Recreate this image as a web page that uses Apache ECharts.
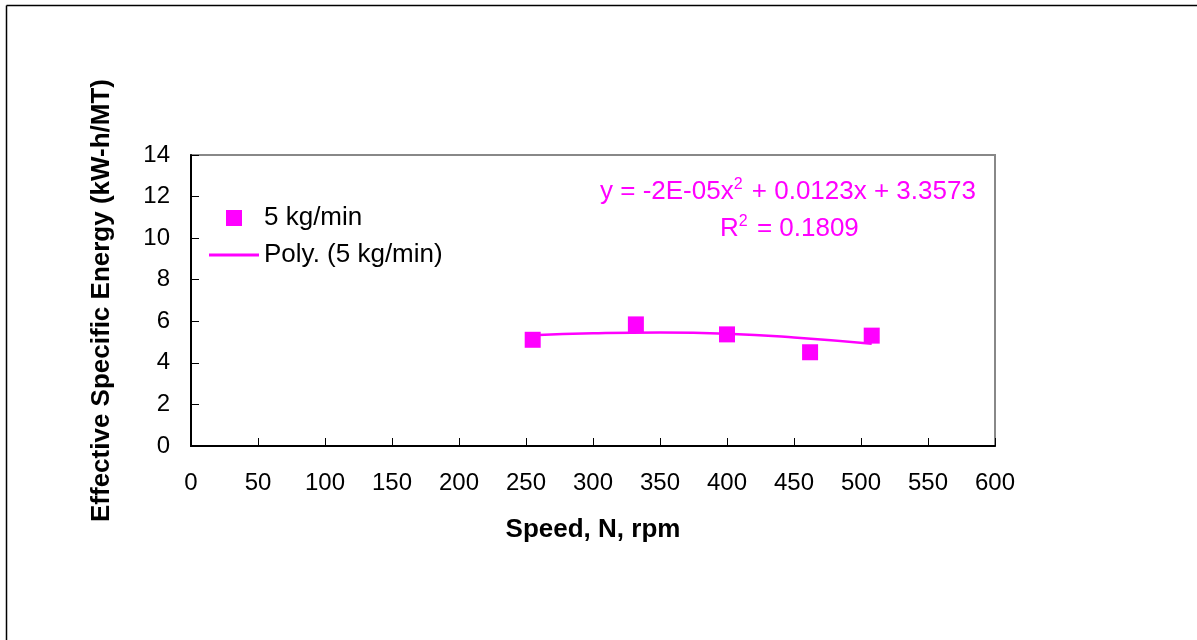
<!DOCTYPE html>
<html>
<head>
<meta charset="utf-8">
<script src="https://cdn.jsdelivr.net/npm/echarts@6/dist/echarts.min.js"></script>
<style>
  html, body { margin: 0; padding: 0; background: #fff; }
  #chart { width: 1197px; height: 640px; }
</style>
</head>
<body>
<div id="chart"></div>
<script>
// measured points (speed rpm, energy kW-h/MT)
const speedRpm = [255, 332, 400, 462, 508]
const energy = [5.11, 5.85, 5.37, 4.51, 5.31]

// trend line
const trendRpm = [255, 300, 350, 400, 450, 508]
const trendEnergy = [5.33, 5.42, 5.46, 5.40, 5.22, 4.92]

const xTicks = [0, 600, 50]   // min, max, step
const yTicks = [0, 14, 2]

const magenta = '#FF00FF'
const font = 'Arial, "Liberation Sans", sans-serif'

const chart = echarts.init(document.getElementById('chart'))

const option = {
  backgroundColor: '#fff',
  animation: false,
  textStyle: { fontFamily: font },
  grid: { left: 191, right: 202, top: 155, bottom: 194, show: true, borderColor: '#888', borderWidth: 2 },
  legend: [
    {
      left: 221, top: 200, orient: 'vertical',
      itemWidth: 16, itemHeight: 16,
      data: [{ name: '5 kg/min', icon: 'rect' }],
      textStyle: { fontSize: 26, color: '#000', fontFamily: font, padding: [0, 0, 0, 17] }
    },
    {
      left: 204, top: 237, orient: 'vertical',
      itemWidth: 50, itemHeight: 3,
      data: [{ name: 'Poly. (5 kg/min)', icon: 'rect' }],
      textStyle: { fontSize: 26, color: '#000', fontFamily: font }
    }
  ],
  xAxis: {
    type: 'value', min: xTicks[0], max: xTicks[1], interval: xTicks[2],
    name: 'Speed, N, rpm', nameLocation: 'middle', nameGap: 71,
    nameTextStyle: { fontSize: 26, fontWeight: 'bold', color: '#000', fontFamily: font, verticalAlign: 'top' },
    axisLine: { lineStyle: { color: '#000', width: 2 } },
    axisTick: { inside: true, length: 8, lineStyle: { color: '#000' } },
    axisLabel: { fontSize: 24, color: '#000', margin: 25, fontFamily: font },
    splitLine: { show: false }
  },
  yAxis: {
    type: 'value', min: yTicks[0], max: yTicks[1], interval: yTicks[2],
    name: 'Effective Specific Energy (kW-h/MT)', nameLocation: 'middle', nameGap: 76,
    nameTextStyle: { fontSize: 26, fontWeight: 'bold', color: '#000', fontFamily: font, verticalAlign: 'bottom' },
    axisLine: { show: true, lineStyle: { color: '#000', width: 2 } },
    axisTick: { show: true, inside: true, length: 8, lineStyle: { color: '#000' } },
    axisLabel: { fontSize: 24, color: '#000', margin: 21, fontFamily: font },
    splitLine: { show: false }
  },
  series: [
    {
      name: '5 kg/min',
      type: 'scatter',
      symbol: 'rect',
      symbolSize: 16,
      itemStyle: { color: magenta, opacity: 1 },
      data: speedRpm.map((x, i) => [x, energy[i]]),
      z: 3
    },
    {
      name: 'Poly. (5 kg/min)',
      type: 'line',
      smooth: true,
      symbol: 'none',
      lineStyle: { color: magenta, width: 2.5 },
      itemStyle: { color: magenta },
      data: trendRpm.map((x, i) => [x, trendEnergy[i]]),
      z: 2
    }
  ],
  graphic: [
    { type: 'line', shape: { x1: 6.5, y1: 5.5, x2: 1197, y2: 5.5 }, style: { stroke: '#000', lineWidth: 1.5 } },
    { type: 'line', shape: { x1: 6.5, y1: 5.5, x2: 6.5, y2: 640 }, style: { stroke: '#000', lineWidth: 1.5 } },
    {
      type: 'text', left: 600, top: 177,
      style: {
        text: '{n|y = -2E-05x}{s|2}{n| + 0.0123x + 3.3573}',
        rich: {
          n: { fontSize: 26, fill: magenta, fontFamily: font },
          s: { fontSize: 16, fill: magenta, fontFamily: font, verticalAlign: 'top', padding: [0, 2, 14, 0] }
        }
      }
    },
    {
      type: 'text', left: 720, top: 214,
      style: {
        text: '{n|R}{s|2}{n| = 0.1809}',
        rich: {
          n: { fontSize: 26, fill: magenta, fontFamily: font },
          s: { fontSize: 16, fill: magenta, fontFamily: font, verticalAlign: 'top', padding: [0, 2, 14, 0] }
        }
      }
    }
  ]
}

chart.setOption(option)
</script>
</body>
</html>
